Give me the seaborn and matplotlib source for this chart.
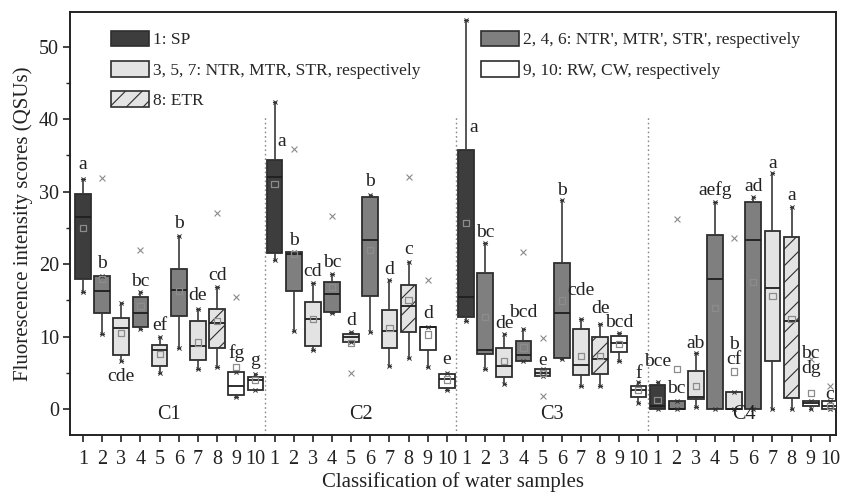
import matplotlib
matplotlib.use("Agg")
import matplotlib.pyplot as plt
from matplotlib.patches import Patch
import seaborn as sns
import pandas as pd

# ---------------- data ----------------
groups = ["C1", "C2", "C3", "C4"]
sample_labels = ["1", "2", "3", "4", "5", "6", "7", "8", "9", "10"]

c1_whislo = [16.1, 10.4, 6.6, 11.0, 5.0, 8.5, 5.5, 5.8, 1.7, 2.6]
c1_q1 = [17.9, 13.2, 7.5, 11.3, 6.0, 12.9, 6.8, 8.4, 2.0, 2.6]
c1_med = [26.5, 16.3, 11.2, 13.2, 8.1, 16.4, 8.7, 11.9, 3.2, 4.0]
c1_q3 = [29.7, 18.4, 12.6, 15.5, 8.9, 19.3, 12.1, 13.8, 5.2, 4.5]
c1_whishi = [31.7, 18.4, 14.6, 16.2, 9.9, 23.9, 13.8, 16.9, 5.2, 4.9]
c1_mean = [25.0, 18.0, 10.5, 14.2, 7.6, 16.3, 9.2, 12.2, 5.8, 4.0]
c1_outliers = [[], [31.9], [], [21.9], [], [], [], [27.0], [15.5], []]
c1_letters = ["a", "b", "cde", "bc", "ef", "b", "de", "cd", "fg", "g"]
c1_letter_at = [33.7, 20.1, 4.5, 17.6, 11.6, 25.6, 15.7, 18.4, 7.8, 6.7]

c2_whislo = [20.6, 10.8, 8.2, 13.2, 9.3, 10.7, 6.0, 7.1, 5.8, 2.6]
c2_q1 = [21.6, 16.3, 8.7, 13.4, 9.3, 15.6, 8.5, 10.6, 8.1, 2.9]
c2_med = [32.0, 21.4, 12.4, 15.9, 9.9, 23.3, 10.8, 14.3, 11.4, 4.2]
c2_q3 = [34.3, 21.7, 14.8, 17.6, 10.4, 29.2, 13.7, 17.1, 11.4, 4.8]
c2_whishi = [42.4, 21.7, 17.4, 18.6, 10.7, 29.6, 17.8, 20.3, 11.4, 5.0]
c2_mean = [31.0, 21.4, 12.4, 16.8, 9.1, 22.0, 11.2, 15.1, 10.3, 4.1]
c2_outliers = [[], [35.9], [], [26.7], [5.0], [], [], [32.0], [17.8], []]
c2_letters = ["a", "b", "cd", "bc", "d", "b", "d", "c", "d", "e"]
c2_letter_at = [36.9, 23.3, 19.0, 20.2, 12.2, 31.4, 19.3, 22.0, 13.2, 6.8]

c3_whislo = [12.2, 5.6, 3.5, 6.6, 4.6, 6.9, 3.2, 3.2, 6.7, 0.8]
c3_q1 = [12.7, 7.6, 4.5, 6.7, 4.6, 7.1, 4.7, 4.8, 7.9, 1.7]
c3_med = [15.5, 8.2, 5.9, 7.5, 5.0, 13.2, 6.1, 6.9, 9.1, 2.6]
c3_q3 = [35.7, 18.8, 8.5, 9.4, 5.5, 20.1, 11.0, 9.9, 10.1, 3.2]
c3_whishi = [53.6, 22.9, 10.4, 11.0, 5.5, 28.9, 12.5, 11.7, 10.5, 3.8]
c3_mean = [25.7, 12.7, 6.7, 8.5, 5.0, 15.0, 7.3, 7.3, 9.0, 2.6]
c3_outliers = [[], [], [], [21.7], [9.8, 1.8], [], [], [], [], []]
c3_letters = ["a", "bc", "de", "bcd", "e", "b", "cde", "de", "bcd", "f"]
c3_letter_at = [38.8, 24.4, 11.8, 13.4, 6.7, 30.2, 16.3, 13.9, 11.9, 4.9]

c4_whislo = [0.0, 0.0, 0.3, 0.0, 0.0, 0.0, 0.0, 0.0, 0.0, 0.0]
c4_q1 = [0.0, 0.0, 1.4, 0.0, 0.0, 0.0, 6.6, 1.5, 0.45, 0.0]
c4_med = [0.5, 0.1, 1.7, 18.0, 0.1, 23.3, 16.7, 12.2, 0.9, 0.4]
c4_q3 = [3.4, 1.2, 5.3, 24.0, 2.4, 28.6, 24.6, 23.7, 1.2, 1.1]
c4_whishi = [3.7, 1.2, 7.8, 28.5, 2.4, 29.3, 32.6, 27.9, 1.2, 1.1]
c4_mean = [1.3, 5.5, 3.2, 14.0, 5.2, 17.5, 15.6, 12.4, 2.2, 0.5]
c4_outliers = [[], [26.2], [], [], [23.6], [], [], [], [6.9], [3.2]]
c4_letters = ["bce", "bc", "ab", "aefg", "b\ncf", "ad", "a", "a", "bc\ndg", "c"]
c4_letter_at = [6.6, 2.8, 9.1, 30.2, 7.9, 30.7, 33.9, 29.4, 6.6, 2.0]

legend_left = ["1: SP", "3, 5, 7: NTR, MTR, STR, respectively", "8: ETR"]
legend_right = ["2, 4, 6: NTR', MTR', STR', respectively", "9, 10: RW, CW, respectively"]
xlabel = "Classification of water samples"
ylabel = "Fluorescence intensity scores (QSUs)"

# ---------------- styling ----------------
sns.set_theme(style="ticks")
plt.rcParams["font.family"] = ["Liberation Serif", "DejaVu Serif"]
plt.rcParams["hatch.linewidth"] = 0.8

DARK, MID, LIGHT, WHITE = "#3d3d3d", "#7f7f7f", "#e3e3e3", "#ffffff"
EDGE = "#2e2e2e"
fills = [DARK, MID, LIGHT, MID, LIGHT, MID, LIGHT, LIGHT, WHITE, WHITE]
hatches = [None, None, None, None, None, None, None, "//", None, None]

all_data = [
    (c1_whislo, c1_q1, c1_med, c1_q3, c1_whishi, c1_mean, c1_outliers, c1_letters, c1_letter_at),
    (c2_whislo, c2_q1, c2_med, c2_q3, c2_whishi, c2_mean, c2_outliers, c2_letters, c2_letter_at),
    (c3_whislo, c3_q1, c3_med, c3_q3, c3_whishi, c3_mean, c3_outliers, c3_letters, c3_letter_at),
    (c4_whislo, c4_q1, c4_med, c4_q3, c4_whishi, c4_mean, c4_outliers, c4_letters, c4_letter_at),
]

fig, ax = plt.subplots(figsize=(8.43, 4.93), dpi=100)
fig.subplots_adjust(left=70 / 843, right=836 / 843, top=1 - 11.7 / 493, bottom=1 - 435 / 493)

stats, positions, box_fill, box_hatch = [], [], [], []
mean_rows, out_rows, end_rows = [], [], []
for g, (wlo, q1, med, q3, whi, mean, outl, letters, lat) in enumerate(all_data):
    for i in range(10):
        p = g * 10 + i + 1
        positions.append(p)
        stats.append(dict(whislo=wlo[i], q1=q1[i], med=med[i], q3=q3[i], whishi=whi[i],
                          mean=mean[i], fliers=[]))
        box_fill.append(fills[i])
        box_hatch.append(hatches[i])
        mean_rows.append(dict(pos=p, val=mean[i]))
        end_rows.append(dict(pos=p, val=wlo[i]))
        end_rows.append(dict(pos=p, val=whi[i]))
        for o in outl[i]:
            out_rows.append(dict(pos=p, val=o))

bp = ax.bxp(stats, positions=positions, widths=0.82, patch_artist=True, showmeans=False,
            showfliers=False, capwidths=0.18,
            boxprops=dict(edgecolor=EDGE, linewidth=1.3),
            medianprops=dict(color="#1e1e1e", linewidth=1.3),
            whiskerprops=dict(color="#3a3a3a", linewidth=1.2),
            capprops=dict(color="#3a3a3a", linewidth=1.0), zorder=3)
for patch, fc, h in zip(bp["boxes"], box_fill, box_hatch):
    patch.set_facecolor(fc)
    if h:
        patch.set_hatch(h)
        patch.set_edgecolor(EDGE)

df_mean = pd.DataFrame(mean_rows)
df_out = pd.DataFrame(out_rows)
df_end = pd.DataFrame(end_rows)
sns.scatterplot(data=df_end, x="pos", y="val", marker="x", s=9, color="#333333",
                linewidth=0.7, ax=ax, zorder=4, legend=False)
sns.scatterplot(data=df_out, x="pos", y="val", marker="x", s=18, color="#8a8a8a",
                linewidth=0.8, ax=ax, zorder=4, legend=False)
ax.scatter(df_mean["pos"], df_mean["val"], marker="s", s=20, facecolors="none",
           edgecolors="#8c8c8c", linewidths=0.9, zorder=5)

# significance letters
for g, (wlo, q1, med, q3, whi, mean, outl, letters, lat) in enumerate(all_data):
    for i in range(10):
        p = g * 10 + i + 1
        dx = 0.0
        ha = "center"
        if i == 0 and g in (1, 2):
            dx, ha = 0.15, "left"
        ax.text(p + dx, lat[i], letters[i], ha=ha, va="center", fontsize=14,
                linespacing=0.85, color="#222222", zorder=6)
    ax.text(g * 10 + 5.5, -0.7, groups[g], ha="center", va="center", fontsize=14.5,
            color="#222222", zorder=7)

# group separators
for g in range(1, 4):
    ax.vlines(g * 10 + 0.5, -3.55, 40.3, colors="#8a8a8a", linestyles=(0, (1.2, 2)),
              linewidth=1.0, zorder=1)

ax.set_xlim(0.32, 40.32)
ax.set_ylim(-3.55, 54.8)
ax.set_xticks(positions)
ax.set_xticklabels(sample_labels * 4)
ax.set_yticks([0, 10, 20, 30, 40, 50])
ax.set_yticks([5, 15, 25, 35, 45], minor=True)
ax.tick_params(axis="both", which="major", direction="out", length=5, width=1.2,
               labelsize=14.5, colors="#222222", pad=3)
ax.tick_params(axis="y", which="minor", direction="out", length=3, width=1.0, colors="#222222")
ax.tick_params(axis="x", pad=6)
for s in ax.spines.values():
    s.set_visible(True)
    s.set_linewidth(1.4)
    s.set_color("#222222")
ax.set_xlabel(xlabel, fontsize=15, color="#222222", labelpad=2)
ax.set_ylabel(ylabel, fontsize=15, color="#222222", labelpad=4)

# legends
h_left = [Patch(facecolor=DARK, edgecolor=EDGE, linewidth=1.2),
          Patch(facecolor=LIGHT, edgecolor=EDGE, linewidth=1.2),
          Patch(facecolor=LIGHT, edgecolor=EDGE, linewidth=1.2, hatch="//")]
h_right = [Patch(facecolor=MID, edgecolor=EDGE, linewidth=1.2),
           Patch(facecolor=WHITE, edgecolor=EDGE, linewidth=1.2)]
leg_kw = dict(loc="upper left", frameon=False, fontsize=12.5, handlelength=2.2,
              handleheight=1.0, handletextpad=0.25, labelspacing=0.72, borderpad=0,
              borderaxespad=0)
leg1 = ax.legend(h_left, legend_left, bbox_to_anchor=(0.053, 0.955), **leg_kw)
ax.add_artist(leg1)
ax.legend(h_right, legend_right, bbox_to_anchor=(0.536, 0.955), **leg_kw)

fig.savefig("out.png", dpi=100)
